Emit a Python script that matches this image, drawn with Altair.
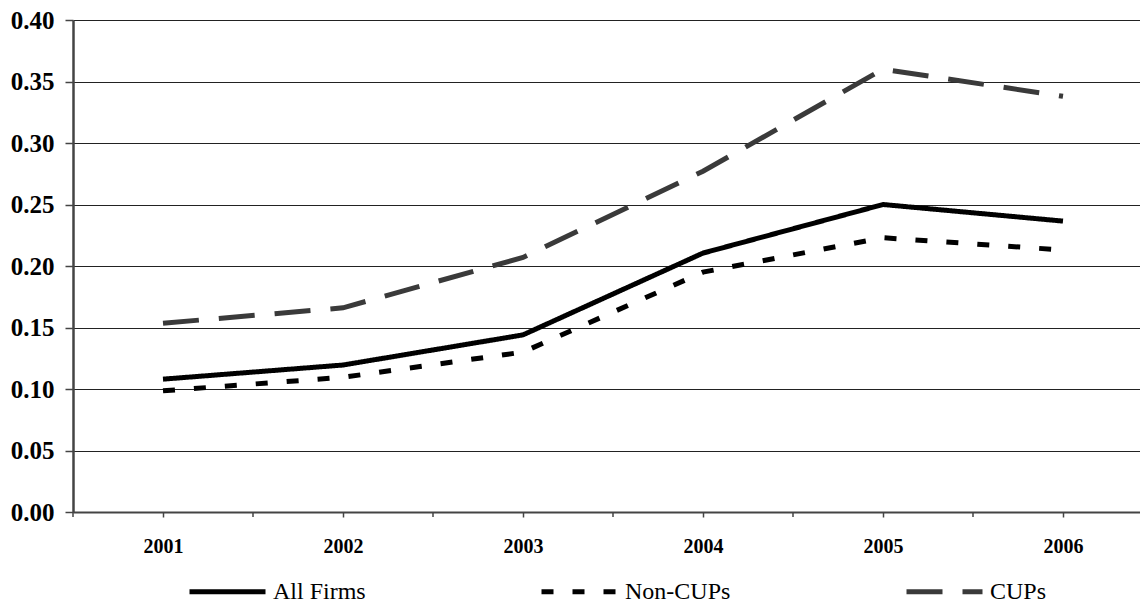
import altair as alt
import pandas as pd

years = [2001, 2002, 2003, 2004, 2005, 2006]
all_firms = [0.108, 0.1195, 0.144, 0.2105, 0.250, 0.2365]
non_cups = [0.0985, 0.1095, 0.130, 0.195, 0.223, 0.213]
cups = [0.1535, 0.166, 0.207, 0.277, 0.360, 0.338]

series_names = ["All Firms", "Non-CUPs", "CUPs"]
series_colors = ["#000000", "#000000", "#3a3a3a"]
series_dashes = [[1, 0], [12, 19], [36, 20]]

y_ticks = [0.0, 0.05, 0.10, 0.15, 0.20, 0.25, 0.30, 0.35, 0.40]
x_bounds = [2000.5, 2001.5, 2002.5, 2003.5, 2004.5, 2005.5]

rows = []
for name, vals in zip(series_names, [all_firms, non_cups, cups]):
    for yr, v in zip(years, vals):
        rows.append({"Year": yr, "Value": v, "Series": name})
df = pd.DataFrame(rows)
bounds_df = pd.DataFrame({"Year": x_bounds})

serif = "Liberation Serif"
x_scale = alt.Scale(domain=[2000.5, 2006.4278], nice=False, zero=False)

legend = alt.Legend(
    title=None, orient="none", legendX=114, legendY=531, direction="horizontal",
    columns=3, symbolType="stroke", symbolSize=5776, symbolStrokeWidth=5,
    labelFont=serif, labelFontSize=24, labelColor="#000000", labelOffset=5,
    columnPadding=165, padding=0, gridAlign="each", labelLimit=300,
)

lines = alt.Chart(df).mark_line(strokeWidth=5, strokeCap="butt", strokeJoin="miter").encode(
    x=alt.X("Year:Q", scale=x_scale,
            axis=alt.Axis(values=years, format="d", title=None,
                          labelOverlap=False, grid=False, tickSize=5, labelPadding=19,
                          labelFont=serif, labelFontSize=20, labelFontWeight="bold",
                          labelColor="#000000", domainColor="#444444", domainWidth=2,
                          tickColor="#444444", tickWidth=1.5)),
    y=alt.Y("Value:Q",
            scale=alt.Scale(domain=[0, 0.40], nice=False),
            axis=alt.Axis(values=y_ticks, format=".2f", title=None,
                          labelOverlap=False,
                          grid=True, gridColor="#222222", gridWidth=1,
                          tickSize=8, labelPadding=11,
                          labelFont=serif, labelFontSize=25, labelFontWeight="bold",
                          labelColor="#000000", domainColor="#444444", domainWidth=2.5,
                          tickColor="#444444", tickWidth=1.5)),
    color=alt.Color("Series:N",
                    scale=alt.Scale(domain=series_names, range=series_colors),
                    legend=legend),
    strokeDash=alt.StrokeDash("Series:N",
                              scale=alt.Scale(domain=series_names, range=series_dashes),
                              legend=legend),
)

bound_ticks = alt.Chart(bounds_df).mark_rule(color="#444444", strokeWidth=1.5).encode(
    x=alt.X("Year:Q", scale=x_scale),
    y=alt.value(492),
    y2=alt.value(497),
)

chart = alt.layer(lines, bound_ticks).properties(
    width=1067, height=492,
    autosize=alt.AutoSizeParams(type="none"),
    padding={"left": 65, "top": 12, "right": 0, "bottom": 92},
).configure_view(
    stroke=None
).configure_legend(
    labelFont=serif, labelFontSize=24, labelColor="#000000"
).configure(
    font=serif
)

chart.save("out.html", embed_options={"renderer": "svg", "actions": False})
